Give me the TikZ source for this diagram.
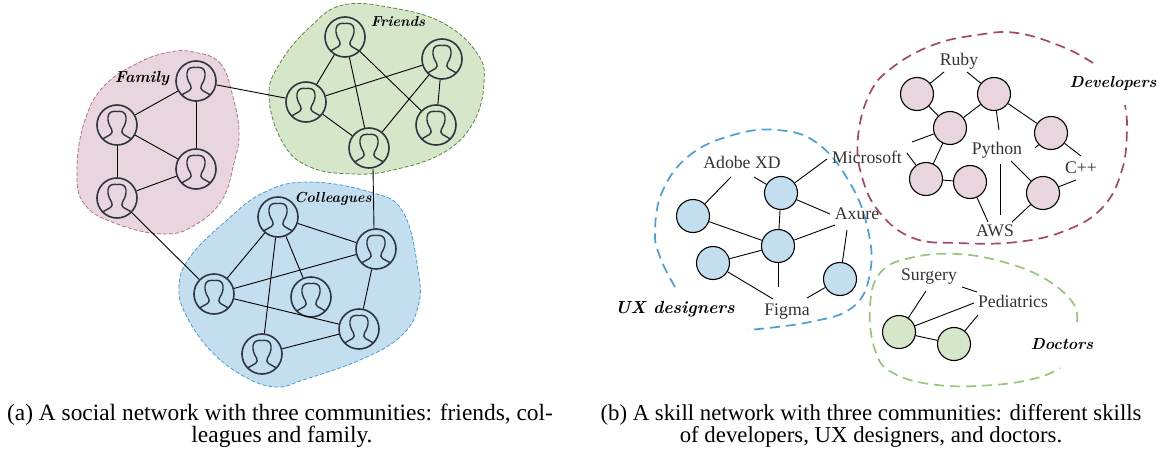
\documentclass[tikz,border=0pt]{standalone}
\usepackage{fontspec}
\newfontfamily\lib{Liberation Serif}
\usetikzlibrary{calc}
\definecolor{pinkfill}{HTML}{E8D5DD}
\definecolor{pinkline}{HTML}{B5708F}
\definecolor{greenfill}{HTML}{D5E6C9}
\definecolor{greenline}{HTML}{5A8A3C}
\definecolor{bluefill}{HTML}{C3DFEF}
\definecolor{blueline}{HTML}{4A9BD4}
\definecolor{devdash}{HTML}{A8446F}
\definecolor{uxdash}{HTML}{4A9FD8}
\definecolor{docdash}{HTML}{98C57A}
\definecolor{icon}{HTML}{2D3540}
\definecolor{labelgray}{HTML}{333333}
\tikzset{
  x=1pt,y=-1pt,
  blob/.style={dashed,dash pattern=on 4pt off 2pt,line width=.8pt},
  openblob/.style={line width=1.7pt,dash pattern=on 10pt off 6pt},
  person/.style={circle,draw=icon,line width=1.6pt,minimum size=40pt,inner sep=0pt},
  sil/.style={draw=icon,line width=1.4pt,line join=round},
  skill/.style={circle,draw=black,line width=1.1pt,minimum size=33pt,inner sep=0pt},
  edge/.style={draw=black,line width=.9pt},
  tag/.style={font=\lib\fontsize{17.7}{20}\selectfont,text=labelgray,inner sep=0pt},
  hand/.style={font=\normalfont\itshape\bfseries\fontsize{#1}{18}\selectfont,inner sep=0pt},
  hand/.default=16,
  captext/.style={font=\lib\fontsize{#1}{24}\selectfont,text=black,inner sep=0pt},
}
\newcommand\persona[2]{%
  \node[person] (#1) at (#2) {};
  \begin{scope}[shift={(#2)}]
    \draw[sil] (-14.5,14) -- (-6.5,9.5) .. controls (-4.5,8.5) and (-4.5,6) .. (-5.5,4)
      .. controls (-8,0) and (-9.5,-4) .. (-9,-8)
      .. controls (-8.5,-13.5) and (-4,-14) .. (0,-13.5)
      .. controls (4,-14) and (8.5,-13.5) .. (9,-8)
      .. controls (9.5,-4) and (8,0) .. (5.5,4)
      .. controls (4.5,6) and (4.5,8.5) .. (6.5,9.5) -- (14.5,14);
  \end{scope}
}
\begin{document}
\begin{tikzpicture}
\useasboundingbox (0,0) rectangle (1159,452);
% community regions
\draw[blob,fill=pinkfill,draw=pinkline] plot[smooth cycle,tension=.7] coordinates {(193,52) (220,63) (233,97) (239,133) (234,163) (222,200) (195,225) (165,234) (120,225) (85,205) (77,170) (85,120) (105,85) (140,62) (170,52)};
\draw[blob,fill=greenfill,draw=greenline] plot[smooth cycle,tension=.7] coordinates {(343,5) (393,8) (443,23) (477,53) (484,83) (473,123) (443,153) (393,170) (353,174) (310,167) (283,143) (269,97) (280,63) (310,27)};
\draw[blob,fill=bluefill,draw=blueline] plot[smooth cycle,tension=.7] coordinates {(307,182) (370,192) (403,212) (418,270) (418,307) (400,337) (360,360) (303,380) (277,387) (247,378) (213,353) (187,317) (179,287) (190,257) (227,220) (263,193)};
% people
\persona{FA}{345,37}
\persona{FB}{442,59}
\persona{FC}{306,102}
\persona{FD}{436,125}
\persona{FE}{369,148}
\persona{AA}{196,81}
\persona{AB}{117,125}
\persona{AC}{196,169}
\persona{AD}{117,198}
\persona{CA}{278,217}
\persona{CB}{376,249}
\persona{CC}{214,294}
\persona{CD}{311,297}
\persona{CE}{359,329}
\persona{CF}{262,354}
\foreach \a/\b in {FA/FC,FA/FE,FA/FD,FB/FC,FB/FE,FB/FD,FC/FE,AA/FC,AA/AB,AA/AC,AB/AC,AB/AD,AC/AD,AD/CC,CA/CB,CA/CC,CA/CD,CA/CF,CC/CB,CC/CE,CB/CE,CE/CF}
  \draw[edge] (\a) -- (\b);
\draw[edge] ([xshift=4pt]FE.south) -- ([xshift=-2pt]CB.north);
\node[hand] (lfam) at (142,79) {Family};
\node[hand=14.5] (lfri) at (398,22) {Friends};
\node[hand=14.5] (lcol) at (333,199) {Colleagues};
% dashed open regions
\draw[openblob,draw=devdash] plot[smooth,tension=.7] coordinates {(1093,63) (1063,47) (1017,33) (977,35) (933,45) (893,67) (870,93) (858,137) (862,177) (880,213) (913,238) (957,243) (1017,242) (1067,230) (1103,207) (1122,170) (1127,130) (1125,105)};
\draw[openblob,draw=uxdash] plot[smooth,tension=.7] coordinates {(675,287) (660,257) (655,230) (663,190) (690,155) (733,135) (777,130) (817,143) (850,183) (868,230) (870,273) (853,307) (810,322) (748,330)};
\draw[openblob,draw=docdash] plot[smooth,tension=.7] coordinates {(1077,322) (1073,303) (1047,280) (1007,263) (957,254) (910,258) (880,273) (870,307) (875,350) (893,373) (937,385) (993,385) (1037,378) (1060,368)};
% skill circles
\foreach \n/\p in {PA/{917,94},PB/{994,94},PC/{950,128},PD/{1051,133},PE/{926,179},PF/{970,182},PG/{1043,193}}
  \node[skill,fill=pinkfill] (\n) at (\p) {};
\foreach \n/\p in {UA/{693,216},UB/{781,193},UC/{778,246},UD/{713,263},UE/{840,279}}
  \node[skill,fill=bluefill] (\n) at (\p) {};
\foreach \n/\p in {DA/{899,332},DB/{954,344}}
  \node[skill,fill=greenfill] (\n) at (\p) {};
% skill labels
\node[tag] (ruby) at (959,61) {Ruby};
\node[tag] (python) at (997,150) {Python};
\node[tag] (cpp) at (1081,168) {C++};
\node[tag] (aws) at (995,231) {AWS};
\node[tag] (ms) at (867,157) {Microsoft};
\node[tag] (adobe) at (742,162) {Adobe XD};
\node[tag] (axure) at (857,214) {Axure};
\node[tag] (figma) at (787,312) {Figma};
\node[tag] (surgery) at (929,277) {Surgery};
\node[tag] (pedi) at (1013,301) {Pediatrics};
% skill connectors
\foreach \a/\b in {PA/PC,PB/PC,PC/PE,PE/PF,PB/PD,UB/UC,UA/UC,UC/UD,DA/DB}
  \draw[edge] (\a) -- (\b);
\foreach \a/\l/\o in {PA/ruby/{-15,11},PB/ruby/{8,11},PC/ms/{45,-15},PE/ms/{40,-4},PB/python/{2,-20},PD/python/{38,-2},PD/cpp/{0,-12},PG/cpp/{-5,12},PG/python/{14,11},PF/aws/{-7,-9},PG/aws/{17,-9},UA/adobe/{-11,15},UB/adobe/{12,15},UB/ms/{-40,2},UB/axure/{-27,0},UC/axure/{-22,11},UE/axure/{-10,16},UC/figma/{-9,-25},UD/figma/{-14,-13},UE/figma/{20,-14},DA/surgery/{-3,14},DA/pedi/{-39,2},DB/pedi/{-35,14}}
  \draw[edge] (\a) -- ([shift={(\o)}]\l.center);
\draw[edge] ([shift={(3,14)}]python.center) -- ([shift={(5,-16)}]aws.center);
\draw[edge] ([shift={(33,10)}]surgery.center) -- ([shift={(-36,-9)}]pedi.center);
\node[hand] (ldev) at (1113,83) {Developers};
\node[hand=17.5] (lux) at (675,309) {UX designers};
\node[hand] (ldoc) at (1062,344) {Doctors};
% captions
\node[captext=23.4] (capaa) at (280,415) {(a) A social network with three communities: friends, col-};
\node[captext=23.4] (capab) at (282,437) {leagues and family.};
\node[captext=22.8] (capba) at (871,415) {(b) A skill network with three communities: different skills};
\node[captext=22.8] (capbb) at (871,437) {of developers, UX designers, and doctors.};
\end{tikzpicture}
\end{document}
